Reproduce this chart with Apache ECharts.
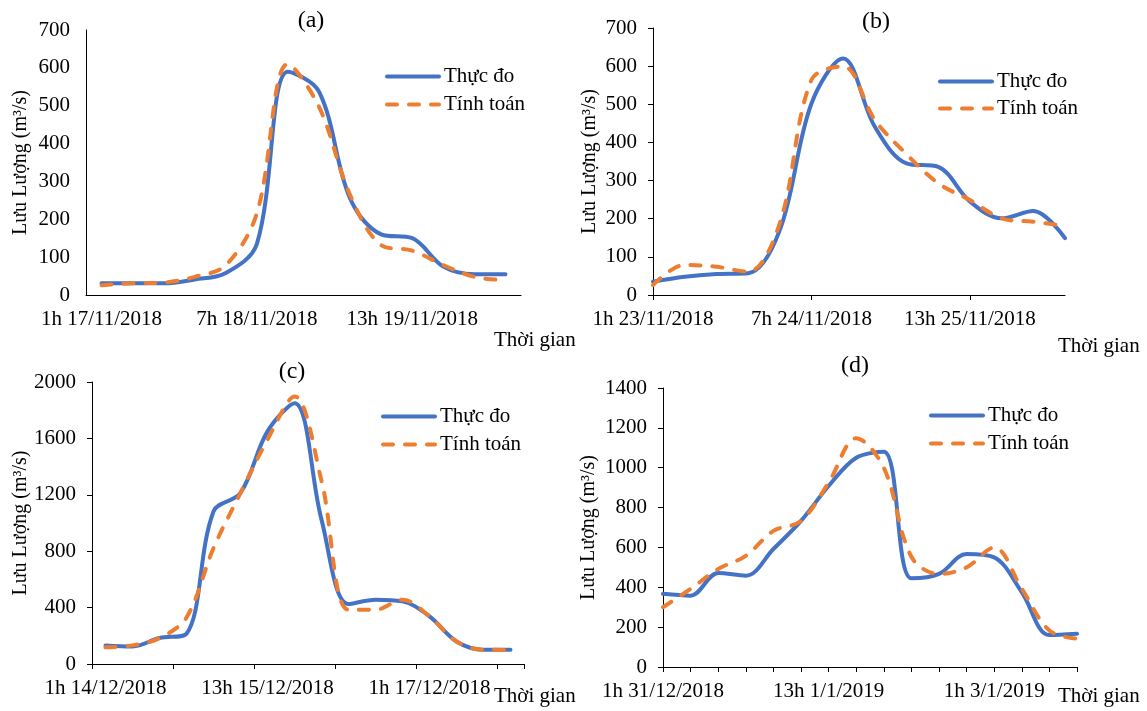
<!DOCTYPE html>
<html><head><meta charset="utf-8">
<script src="https://cdn.jsdelivr.net/npm/echarts@6/dist/echarts.min.js"></script>
<style>html,body{margin:0;padding:0;background:#fff}#c{width:1147px;height:711px}</style>
</head><body><div id="c"></div>
<script>
// ---- data ----
const catA = ['1h 17/11/2018','7h 17/11/2018','13h 17/11/2018','19h 17/11/2018','1h 18/11/2018','7h 18/11/2018','13h 18/11/2018','19h 18/11/2018','1h 19/11/2018','7h 19/11/2018','13h 19/11/2018','19h 19/11/2018','1h 20/11/2018','7h 20/11/2018'];
const obsA = [31, 31, 31, 41, 58, 135, 590, 537, 255, 160, 150, 75, 55, 55];
const calA = [26, 31, 33, 48, 79, 216, 610, 497, 264, 132, 117, 79, 48, 39];

const catB = ['1h 23/11/2018','7h 23/11/2018','13h 23/11/2018','19h 23/11/2018','1h 24/11/2018','7h 24/11/2018','13h 24/11/2018','19h 24/11/2018','1h 25/11/2018','7h 25/11/2018','13h 25/11/2018','19h 25/11/2018','1h 26/11/2018','7h 26/11/2018'];
const obsB = [35, 48, 55, 57, 170, 502, 620, 441, 345, 336, 245, 201, 220, 149];
const calB = [26, 79, 74, 61, 188, 564, 599, 459, 369, 293, 249, 201, 192, 181];

const catC = ['1h 14/12/2018','7h 14/12/2018','13h 14/12/2018','19h 14/12/2018','1h 15/12/2018','7h 15/12/2018','13h 15/12/2018','19h 15/12/2018','1h 16/12/2018','7h 16/12/2018','13h 16/12/2018','19h 16/12/2018','1h 17/12/2018','7h 17/12/2018','13h 17/12/2018','19h 17/12/2018'];
const obsC = [132, 125, 184, 215, 1082, 1213, 1650, 1850, 1024, 425, 456, 444, 338, 160, 101, 101];
const calC = [118, 132, 184, 330, 822, 1213, 1591, 1898, 1300, 385, 385, 456, 338, 160, 101, 100];

const catD = ['1h 31/12/2018','7h 31/12/2018','13h 31/12/2018','19h 31/12/2018','1h 1/1/2019','7h 1/1/2019','13h 1/1/2019','19h 1/1/2019','1h 2/1/2019','7h 2/1/2019','13h 2/1/2019','19h 2/1/2019','1h 3/1/2019','7h 3/1/2019','13h 3/1/2019','19h 3/1/2019'];
const obsD = [367, 358, 472, 458, 592, 733, 908, 1050, 1080, 445, 467, 567, 550, 375, 160, 167];
const calD = [300, 392, 492, 558, 683, 733, 925, 1148, 1000, 553, 467, 500, 600, 392, 183, 142];

const panelTitles = ['(a)', '(b)', '(c)', '(d)'];
const seriesNames = ['Thực đo', 'Tính toán'];
const yName = 'Lưu Lượng (m³/s)';
const xName = 'Thời gian';

// ---- styling ----
const FONT = 'Liberation Serif';
const BLUE = '#4472C4', ORANGE = '#ED7D31';
const TXT = {fontFamily: FONT, color: '#000'};
const LW = 4;

const panels = [
  {cat: catA, obs: obsA, cal: calA, grid: {left: 86, top: 30, width: 435, height: 265},
   y: {max: 700, interval: 100, tick: false, gap: 55}, bgap: true, lblInt: 4, tick: {show: false},
   xname: {gap: -27, pad: 35}, legend: {left: 385, top: 66, gap: 7}, title: [311, 21]},
  {cat: catB, obs: obsB, cal: calB, grid: {left: 653, top: 28, width: 412, height: 267},
   y: {max: 700, interval: 100, tick: true, gap: 53}, bgap: false, lblInt: 4, tick: {show: true, interval: 4},
   xname: {gap: -7, pad: 41}, legend: {left: 938, top: 71, gap: 6}, title: [876, 22]},
  {cat: catC, obs: obsC, cal: calC, grid: {left: 92, top: 382, width: 432, height: 282},
   y: {max: 2000, interval: 400, tick: true, gap: 61}, bgap: true, lblInt: 5, tick: {show: true, interval: 2},
   xname: {gap: -30, pad: 22}, legend: {left: 381, top: 406, gap: 7}, title: [292, 372]},
  {cat: catD, obs: obsD, cal: calD, grid: {left: 663, top: 388, width: 414, height: 279},
   y: {max: 1400, interval: 200, tick: true, gap: 64}, bgap: false, lblInt: 5, tick: {show: true, interval: 0},
   xname: {gap: -19, pad: 19}, legend: {left: 929, top: 405, gap: 7}, title: [855, 366]}
];

const option = {
  backgroundColor: '#fff',
  animation: false,
  grid: [], xAxis: [], yAxis: [], series: [], legend: [], graphic: []
};

panels.forEach((p, i) => {
  option.grid.push(Object.assign({containLabel: false}, p.grid));
  option.xAxis.push({
    type: 'category', gridIndex: i, data: p.cat, boundaryGap: p.bgap,
    axisLine: {show: true, lineStyle: {color: '#000', width: 1}},
    axisTick: {show: p.tick.show, interval: p.tick.interval, length: 5, inside: false, lineStyle: {color: '#000'}},
    axisLabel: Object.assign({interval: p.lblInt, margin: 14, fontSize: 21, hideOverlap: false}, TXT),
    splitLine: {show: false},
    name: xName, nameLocation: 'end', nameGap: p.xname.gap, nameMoveOverlap: false,
    nameTextStyle: Object.assign({fontSize: 21, align: 'left', verticalAlign: 'top', padding: [p.xname.pad, 0, 0, 0]}, TXT)
  });
  option.yAxis.push({
    type: 'value', gridIndex: i, min: 0, max: p.y.max, interval: p.y.interval,
    axisLine: {show: true, lineStyle: {color: '#000', width: 1}},
    axisTick: {show: p.y.tick, length: 5, inside: false, lineStyle: {color: '#000'}},
    axisLabel: Object.assign({margin: 16, fontSize: 21, formatter: v => String(v)}, TXT),
    splitLine: {show: false},
    name: yName, nameLocation: 'middle', nameGap: p.y.gap, nameRotate: 90, nameMoveOverlap: false,
    nameTextStyle: Object.assign({fontSize: 20}, TXT)
  });
  option.series.push({
    name: seriesNames[0], type: 'line', xAxisIndex: i, yAxisIndex: i, data: p.obs,
    smooth: 0.35, symbol: 'none', showSymbol: false,
    lineStyle: {color: BLUE, width: LW, cap: 'round'}, itemStyle: {color: BLUE}, z: 2
  });
  option.series.push({
    name: seriesNames[1], type: 'line', xAxisIndex: i, yAxisIndex: i, data: p.cal,
    smooth: 0.35, symbol: 'none', showSymbol: false,
    lineStyle: {color: ORANGE, width: LW, type: [10, 12], cap: 'round'}, itemStyle: {color: ORANGE}, z: 3
  });
  option.legend.push({
    data: seriesNames, orient: 'vertical', left: p.legend.left, top: p.legend.top,
    itemWidth: 52, itemHeight: 14, itemGap: p.legend.gap, padding: 0, selectedMode: false,
    itemStyle: {opacity: 0, color: 'rgba(0,0,0,0)', borderWidth: 0},
    lineStyle: {width: LW},
    textStyle: Object.assign({fontSize: 21}, TXT)
  });
  option.graphic.push({
    type: 'text', x: p.title[0], y: p.title[1],
    style: {text: panelTitles[i], fontSize: 24, fontFamily: FONT, fill: '#000', align: 'center', verticalAlign: 'middle'}
  });
});

const chart = echarts.init(document.getElementById('c'), null, {renderer: 'canvas'});
chart.setOption(option);
</script>
</body></html>
